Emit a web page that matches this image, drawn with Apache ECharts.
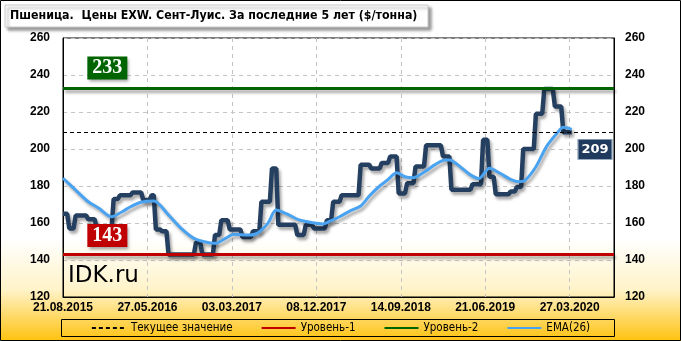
<!DOCTYPE html>
<html><head><meta charset="utf-8">
<script src="https://cdn.jsdelivr.net/npm/echarts@6/dist/echarts.min.js"></script>
<style>html,body{margin:0;padding:0;background:#fff}#c{width:681px;height:341px}</style>
</head><body><div id="c"></div>
<script>
const titleText = 'Пшеница.  Цены EXW. Сент-Луис. За последние 5 лет ($/тонна)';
const tickLabels = ['21.08.2015','27.05.2016','03.03.2017','08.12.2017','14.09.2018','21.06.2019','27.03.2020'];
const startDate = '2015-08-21';
const weekCount = 262;
const price = [
165,165,165,157,157,157,164,164,164,164,164,164,162,162,162,162,
157,157,157,157,157,157,157,157,173,173,173,175,175,175,175,175,175,
176.5,176.5,176.5,176.5,176.5,172.5,172.5,172.5,172.5,175,175,
156.5,156.5,156.5,155.5,155.5,155.5,
143,143,143,143,143,143,143,143,143,143,143,143,143,149.5,149.5,149.5,
143,143,143,143,143,143,153.5,153.5,153.5,161.5,161.5,161.5,161.5,
156.5,156.5,156.5,156.5,156.5,156.5,152.5,152.5,152.5,152.5,152.5,
155.5,155.5,155.5,155.5,171.5,171.5,171.5,171.5,171.5,189.5,189.5,189.5,
159,159,159,159,159,159,159,159,159,153.5,153.5,153.5,153.5,159,159,159,159,
157,157,157,157,157,157,161.5,161.5,161.5,171.5,171.5,171.5,171.5,
175,175,175,175,175,175,175,175,175,191.5,191.5,191.5,191.5,191.5,
189.5,189.5,189.5,189.5,189.5,192.5,192.5,192.5,192.5,196,196,196,196,
176,176,176,176,181.5,181.5,181.5,181.5,190.5,190.5,190.5,190.5,190.5,
202,202,202,202,202,202,202,202,196,196,196,196,
178,178,178,178,178,178,178,178,178,178,181,181,181,181,181,205,205,205,
185,185,185,175.5,175.5,175.5,175.5,175.5,175.5,175.5,177,177,177,179.5,179.5,179.5,
200,200,200,200,200,200,219,219,219,219,232.5,232.5,232.5,232.5,232.5,
223,223,223,223,209,209,209,209,209
];
const emaPoints = [
[0,184.2],[6,177.8],[12,171.5],[17,168],[23,163.4],[28,166.1],[32,168.8],[37,171.2],[43,171.9],
[50,164.3],[56,157.1],[62,151.7],[67,149.9],[72,149],[77,151.7],[81,153.9],[88,153.5],[92,154.4],
[97,159.8],[101,167],[106,164.9],[112,161.6],[118,160.2],[123,159.5],[126,160.7],[131,163.4],
[136,166.6],[141,169.2],[145,174.5],[150,180],[154,183.5],[158,187.2],[162,185],[166,184.5],
[171,187.4],[176,191.4],[181,194.1],[183,194.1],[189,189.6],[193,186],[197,184],[202,189.6],
[207,186.9],[212,183.6],[216,182.3],[219,183.2],[224,190.4],[229,201.3],[234,208.5],[237,211.7],[241,210.6]
];
const level1 = 143;
const level2 = 233;
const current = 209;
const seriesNames = ['Текущее значение','Уровень-1','Уровень-2','EMA(26)'];

function makeWeeks(start, n){
  const d0 = Date.parse(start + 'T00:00:00Z'); const out = [];
  for (let i = 0; i < n; i++) {
    const d = new Date(d0 + i * 7 * 86400000);
    out.push(String(d.getUTCDate()).padStart(2,'0') + '.' + String(d.getUTCMonth()+1).padStart(2,'0') + '.' + d.getUTCFullYear());
  }
  return out;
}
const categories = makeWeeks(startDate, weekCount);
const showTick = (i, v) => tickLabels.indexOf(v === undefined ? categories[i] : v) >= 0;
const lbl = {fontFamily:'Liberation Sans', fontWeight:'bold', fontSize:12, color:'#000'};
const shadow = {shadowColor:'rgba(0,0,0,0.35)', shadowBlur:3, shadowOffsetX:2, shadowOffsetY:3};

const chart = echarts.init(document.getElementById('c'));
chart.setOption({
  animation:false,
  backgroundColor:{type:'linear',x:0,y:0,x2:0,y2:1,colorStops:[
    {offset:0,color:'#ffffff'},{offset:0.7,color:'#ffffff'},{offset:0.85,color:'#FFF3C8'},{offset:1,color:'#FFC20E'}]},
  grid:{left:63, top:38, width:551, height:259, show:true, borderColor:'#000', borderWidth:1, backgroundColor:'transparent'},
  xAxis:{type:'category', data:categories, boundaryGap:false,
    axisLine:{lineStyle:{color:'#000'}}, axisTick:{show:false},
    axisLabel:{...lbl, interval:showTick, margin:5},
    splitLine:{show:true, interval:showTick, lineStyle:{color:'#c4c4c4', type:[4,4]}}},
  yAxis:[
    {type:'value', min:120, max:260, interval:20, axisLine:{show:true,lineStyle:{color:'#000'}}, axisTick:{show:false},
      axisLabel:{...lbl, margin:13}, splitLine:{lineStyle:{color:'#c4c4c4', type:[4,4]}}},
    {type:'value', position:'right', min:120, max:260, interval:20, axisLine:{show:true,lineStyle:{color:'#000'}}, axisTick:{show:false},
      axisLabel:{...lbl, margin:11}, splitLine:{show:false}}
  ],
  legend:{data:seriesNames, left:'center', top:322, itemWidth:34, itemHeight:10, itemGap:28, padding:0,
    itemStyle:{opacity:0},
    textStyle:{fontFamily:'DejaVu Sans Condensed', fontSize:11.5, color:'#000'}},
  graphic:[
    {type:'rect', z:100, shape:{x:0.5,y:0.5,width:680,height:340}, style:{fill:'none', stroke:'#000', lineWidth:1}},
    {type:'rect', z:50, shape:{x:5,y:5,width:423,height:22}, style:{fill:'#fff', stroke:'#c8c8c8', lineWidth:1,
      shadowColor:'rgba(0,0,0,0.4)', shadowBlur:3, shadowOffsetX:3, shadowOffsetY:3}},
    {type:'text', z:51, x:10, y:16, style:{text:titleText, fontFamily:'DejaVu Sans Condensed', fontWeight:'bold', fontSize:12.3, fill:'#000', verticalAlign:'middle'}},
    {type:'rect', z:1, shape:{x:61.5,y:319.5,width:553,height:17}, style:{fill:'none', stroke:'#000', lineWidth:1}},
    {type:'text', z:60, x:68, y:276, style:{text:'IDK.ru', fontFamily:'DejaVu Sans', fontSize:23, fill:'#000', verticalAlign:'middle'}}
  ],
  series:[
    {name:seriesNames[1], type:'line', data:[], symbol:'none', color:'#C00000', lineStyle:{color:'#C00000', width:3},
      markLine:{silent:true, symbol:'none', label:{show:false}, lineStyle:{color:'#C00000', width:3, type:'solid', ...shadow}, data:[{yAxis:level1}]},
      markPoint:{symbol:'rect', symbolSize:[40,23], symbolOffset:[0,-19], itemStyle:{color:'#C00000', opacity:1, ...shadow},
        label:{show:true, color:'#fff', fontFamily:'Liberation Serif', fontWeight:'bold', fontSize:20, formatter:String(level1)},
        data:[{coord:[21, level1], value:level1}]}},
    {name:seriesNames[2], type:'line', data:[], symbol:'none', color:'#006400', lineStyle:{color:'#006400', width:3},
      markLine:{silent:true, symbol:'none', label:{show:false}, lineStyle:{color:'#006400', width:3, type:'solid', ...shadow}, data:[{yAxis:level2}]},
      markPoint:{symbol:'rect', symbolSize:[40,23], symbolOffset:[0,-20], itemStyle:{color:'#006400', opacity:1, ...shadow},
        label:{show:true, color:'#fff', fontFamily:'Liberation Serif', fontWeight:'bold', fontSize:20, formatter:String(level2)},
        data:[{coord:[21, level2], value:level2}]}},
    {name:'Цена', type:'line', data:price, symbol:'none', z:3, lineStyle:{color:'#243F60', width:4.5, ...shadow}},
    {name:seriesNames[3], type:'line', data:emaPoints, symbol:'none', smooth:0.3, z:4, color:'#4AA3F0', lineStyle:{color:'#4AA3F0', width:3, ...shadow}},
    {name:seriesNames[0], type:'line', data:[], symbol:'none', z:5, color:'#000', lineStyle:{color:'#000', width:1, type:[4,3]},
      markLine:{silent:true, symbol:'none', label:{show:false}, lineStyle:{color:'#000', width:1, type:[4,3]}, data:[{yAxis:current}]},
      markPoint:{symbol:'rect', symbolSize:[34,20], symbolOffset:[0,17], itemStyle:{color:'#1F3A5C', opacity:1, borderColor:'#8FA3BA', borderWidth:1},
        label:{show:true, color:'#fff', fontFamily:'DejaVu Sans', fontWeight:'bold', fontSize:13, formatter:String(current)},
        data:[{coord:[252, current], value:current}]}}
  ]
});
</script></body></html>
